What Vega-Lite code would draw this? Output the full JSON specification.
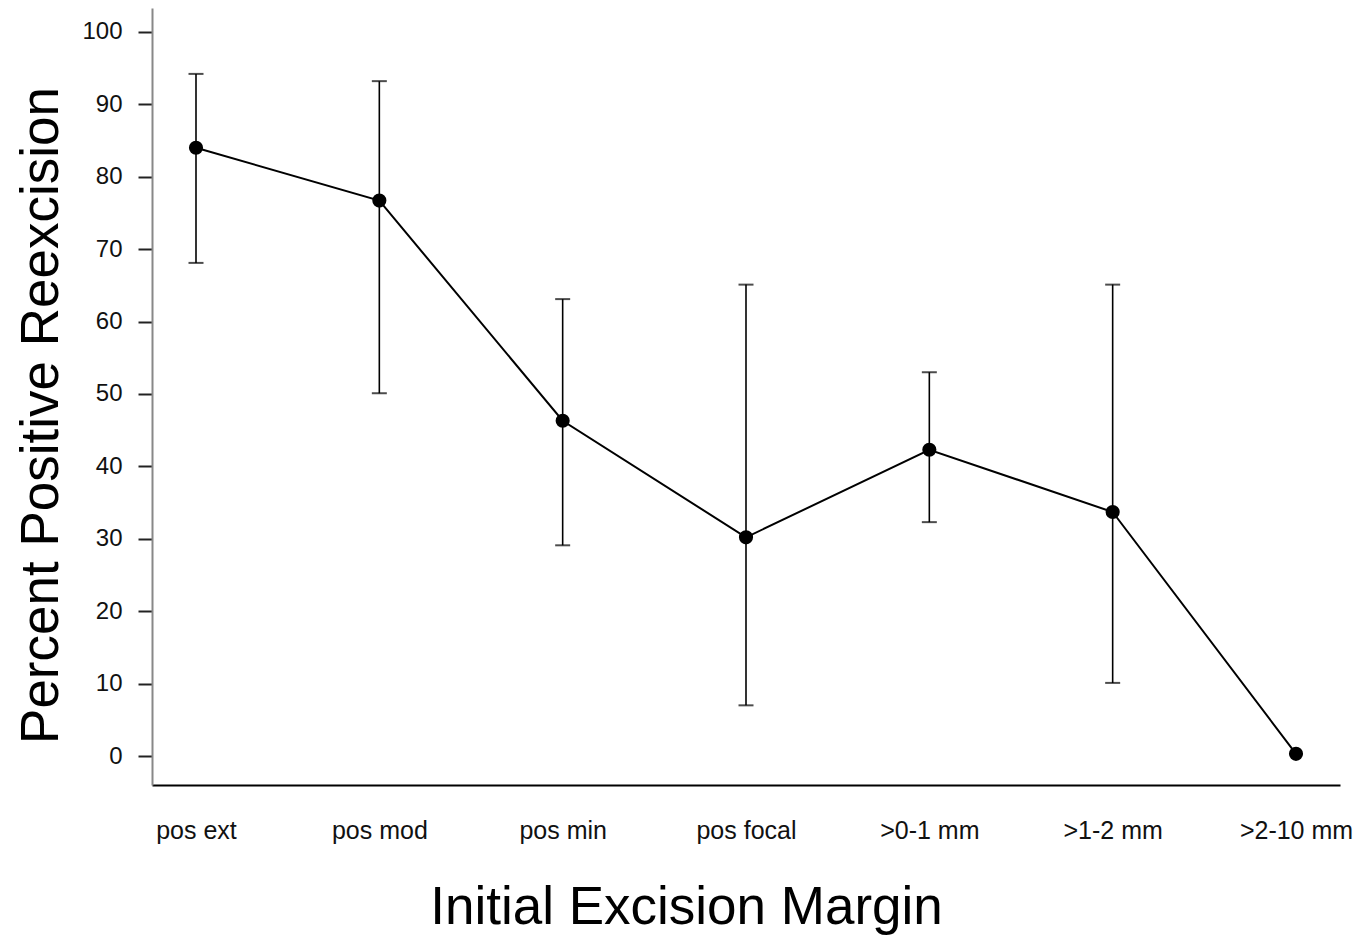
{
  "$schema": "https://vega.github.io/schema/vega-lite/v6.json",
  "width": 1188,
  "height": 777,
  "autosize": {"type": "none"},
  "padding": {"left": 152, "top": 8, "right": 24, "bottom": 150},
  "background": "white",
  "config": {"view": {"stroke": null}, "font": "Liberation Sans"},
  "data": {"values": [
    {"margin": "pos ext", "pct": 84.0, "lo": 68.1, "hi": 94.2},
    {"margin": "pos mod", "pct": 76.7, "lo": 50.1, "hi": 93.2},
    {"margin": "pos min", "pct": 46.3, "lo": 29.1, "hi": 63.1},
    {"margin": "pos focal", "pct": 30.2, "lo": 7.0, "hi": 65.1},
    {"margin": ">0-1 mm", "pct": 42.3, "lo": 32.3, "hi": 53.0},
    {"margin": ">1-2 mm", "pct": 33.7, "lo": 10.1, "hi": 65.1},
    {"margin": ">2-10 mm", "pct": 0.3, "lo": null, "hi": null}
  ]},
  "encoding": {
    "x": {
      "field": "margin", "type": "ordinal", "sort": null,
      "scale": {"type": "point", "padding": 0.24},
      "axis": {
        "title": "Initial Excision Margin",
        "titleFontSize": 53, "titleFontWeight": "normal", "titleColor": "black",
        "titleBaseline": "alphabetic", "titleAnchor": "start", "titleAlign": "center",
        "titleX": 534, "titleY": 138,
        "labelAngle": 0, "labelFontSize": 25, "labelColor": "#111",
        "labelPadding": 33, "ticks": false,
        "domainColor": "black", "domainWidth": 2, "grid": false
      }
    }
  },
  "layer": [
    {
      "mark": {"type": "rule", "color": "black", "strokeWidth": 1.6},
      "transform": [{"filter": "datum.lo != null"}],
      "encoding": {
        "y": {"field": "lo", "type": "quantitative"},
        "y2": {"field": "hi"}
      }
    },
    {
      "mark": {"type": "tick", "color": "black", "thickness": 2, "size": 15, "orient": "horizontal"},
      "transform": [{"filter": "datum.lo != null"}],
      "encoding": {"y": {"field": "lo", "type": "quantitative"}}
    },
    {
      "mark": {"type": "tick", "color": "black", "thickness": 2, "size": 15, "orient": "horizontal"},
      "transform": [{"filter": "datum.hi != null"}],
      "encoding": {"y": {"field": "hi", "type": "quantitative"}}
    },
    {
      "mark": {"type": "line", "color": "black", "strokeWidth": 2},
      "encoding": {"y": {"field": "pct", "type": "quantitative"}}
    },
    {
      "mark": {"type": "point", "filled": true, "color": "black", "opacity": 1, "size": 200},
      "encoding": {
        "y": {
          "field": "pct", "type": "quantitative",
          "scale": {"domain": [-4, 103.3], "nice": false, "zero": false},
          "axis": {
            "title": "Percent Positive Reexcision",
            "titleFontSize": 53, "titleFontWeight": "normal", "titleColor": "black",
            "titleAngle": -90, "titleBaseline": "alphabetic", "titleAlign": "center",
            "titleX": -95, "titleY": 407,
            "values": [0, 10, 20, 30, 40, 50, 60, 70, 80, 90, 100],
            "labelFontSize": 24, "labelColor": "#111", "labelPadding": 16,
            "tickSize": 14, "tickColor": "#222", "tickWidth": 2,
            "domainColor": "#888", "domainWidth": 2, "grid": false
          }
        }
      }
    }
  ]
}
